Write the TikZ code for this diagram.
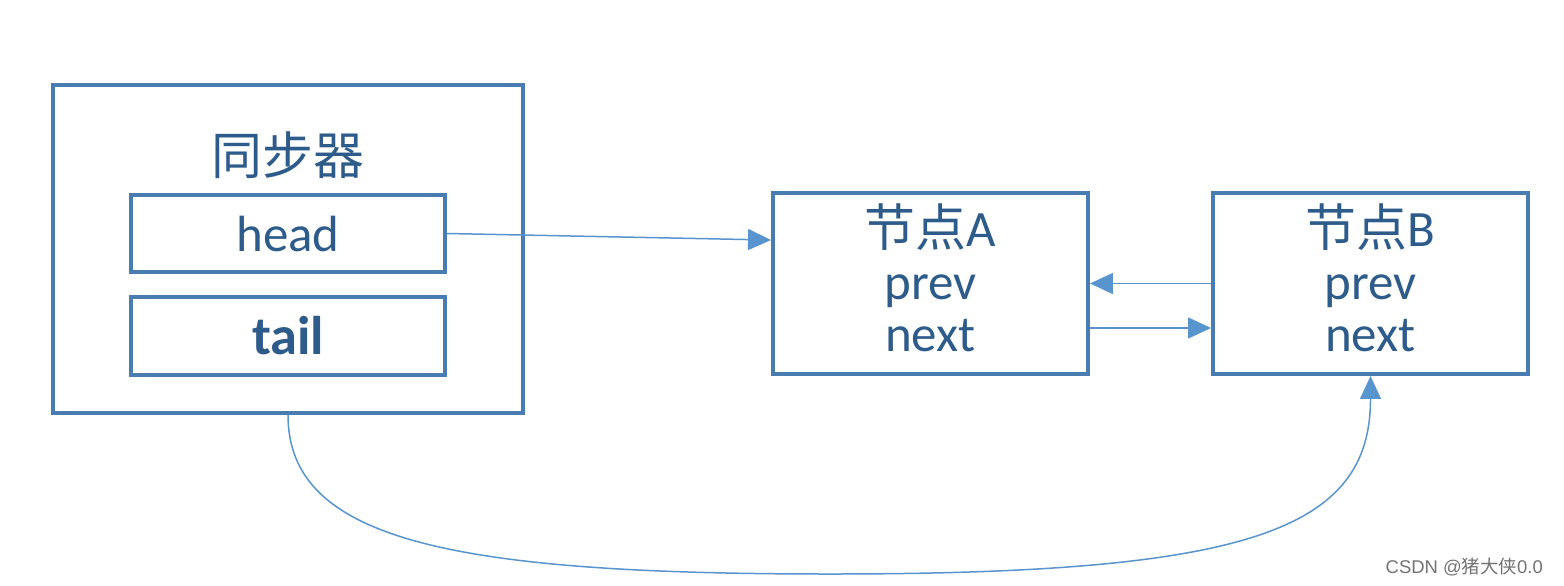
\documentclass[tikz,border=0pt]{standalone}
\usepackage{fontspec}
\setmainfont{Carlito}
\newfontfamily\cjk{Noto Sans CJK SC}
\newfontfamily\wmfont{Liberation Sans}
\usetikzlibrary{arrows.meta}
\definecolor{boxblue}{RGB}{73,125,178}
\definecolor{textblue}{RGB}{46,92,138}
\definecolor{linkblue}{RGB}{88,148,206}
\newcommand{\zh}[1]{{\cjk #1}}

\begin{document}
\begin{tikzpicture}
                \tikzset{x=0.02cm, y=-0.02cm}
                \tikzstyle{boxtext}=[text=textblue, font=\fontsize{29}{30}\selectfont, align=center]
                \tikzstyle{box}=[rectangle, draw=boxblue, line width=0.08cm, boxtext]
                \tikzstyle{field}=[box, minimum width=6.28cm, minimum height=1.56cm]
                \tikzstyle{listnode}=[box, minimum width=6.3cm, minimum height=3.62cm]
                \tikzstyle{link}=[draw=linkblue, line width=0.03cm, -{Triangle[length=0.46cm, width=0.42cm]}]

                \useasboundingbox (0,0) rectangle (1564,585);

                \draw (288, 249)    node[box, minimum width=9.4cm, minimum height=6.56cm] (sync) {};
                \draw (288, 155)    node[boxtext] (title) {\zh{同步器}};
                \draw (288, 233.5)  node[field]   (head)  {head};
                \draw (288, 336)    node[field, font=\fontsize{31}{31}\selectfont\bfseries] (tail) {tail};

                \draw (930.5, 283.5)  node[listnode] (A) {};
                \draw (1370.5, 283.5) node[listnode] (B) {};
                \draw (930.5, 278)    node[boxtext]  (Atext) {\zh{节点}A\\prev\\next};
                \draw (1370.5, 278)   node[boxtext]  (Btext) {\zh{节点}B\\prev\\next};

                \draw (1549, 567)   node[anchor=east, text=black!55, font=\wmfont\fontsize{10.5}{10.5}\selectfont] (mark) {CSDN @\zh{猪大侠}0.0};
                \coordinate (low) at (830, 574);

                \draw [link]        (head.east) -- ([yshift=0.87cm]A.west);
                \draw [link]        (B.west) -- (A.east);
                \draw [link]        ([yshift=-0.89cm]A.east) -- ([yshift=-0.89cm]B.west);
                \draw [link]        (sync.south) .. controls +(0,125) and +(-380,0) .. (low)
                                                 .. controls +(420,0) and +(0,154) .. (B.south);
            \end{tikzpicture}
\end{document}
